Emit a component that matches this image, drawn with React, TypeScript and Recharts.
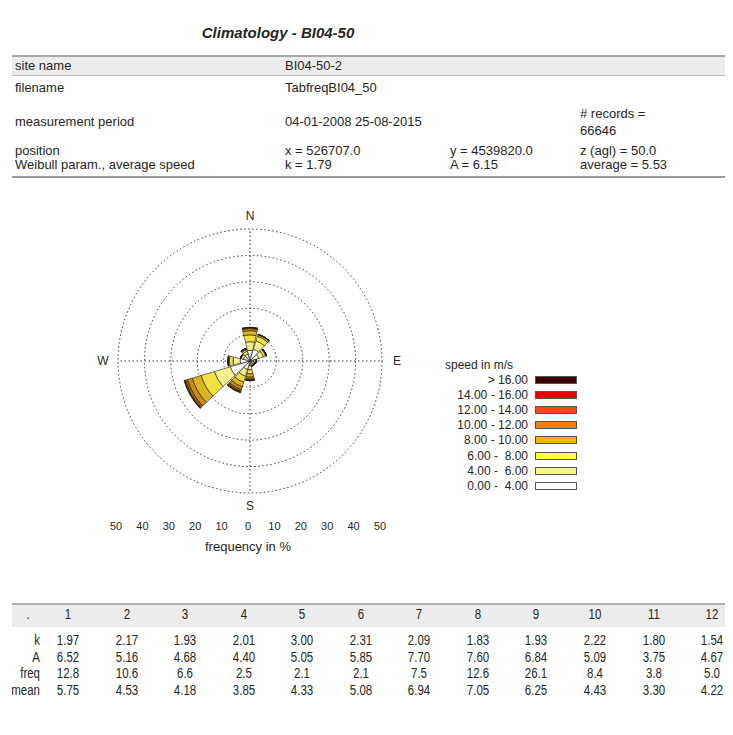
import React from 'react';
import { RadialBarChart, RadialBar, PolarGrid, PolarAngleAxis, PolarRadiusAxis } from 'recharts';

// 12 direction sectors, sector 1 = N, then clockwise every 30 degrees
const sectors = ['1', '2', '3', '4', '5', '6', '7', '8', '9', '10', '11', '12'];

// frequency (%) per speed class, per sector
const f0to4 = [4.06, 4.64, 3.45, 1.41, 0.82, 0.71, 1.68, 3.35, 7.8, 3.72, 2.56, 2.73];
const f4to6 = [3.26, 3.31, 1.84, 0.71, 0.88, 0.66, 1.67, 2.66, 6.29, 2.69, 0.87, 1.13];
const f6to8 = [2.61, 1.85, 0.92, 0.3, 0.35, 0.46, 1.6, 2.39, 5.26, 1.44, 0.29, 0.64];
const f8to10 = [1.61, 0.64, 0.31, 0.08, 0.04, 0.2, 1.21, 1.79, 3.49, 0.45, 0.06, 0.31];
const f10to12 = [0.79, 0.14, 0.07, 0.01, 0.0, 0.06, 0.74, 1.16, 1.9, 0.08, 0.01, 0.13];
const f12to14 = [0.32, 0.02, 0.01, 0, 0, 0.01, 0.37, 0.66, 0.87, 0.01, 0, 0.05];
const f14to16 = [0.1, 0, 0, 0, 0, 0, 0.15, 0.34, 0.33, 0, 0, 0.02];
const fOver16 = [0.04, 0, 0, 0, 0, 0, 0.08, 0.25, 0.15, 0, 0, 0.01];

const speedClasses = ['0.00 -  4.00', '4.00 -  6.00', '6.00 -  8.00', '8.00 - 10.00', '10.00 - 12.00', '12.00 - 14.00', '14.00 - 16.00', '> 16.00'];
const classValues = [f0to4, f4to6, f6to8, f8to10, f10to12, f12to14, f14to16, fOver16];
const barColors = ['#ffffff', '#f7f08c', '#f0e040', '#dcb420', '#c88a10', '#a8640a', '#844606', '#5a2a02'];
const legendColors = ['#ffffff', '#f5f58a', '#ffff3c', '#ffb400', '#ff7d00', '#ff4614', '#ee0000', '#3a0000'];

const freqTicks = [0, 10, 20, 30, 40, 50];
const compass = [
  { label: 'N', angle: 90, gap: 13 },
  { label: 'E', angle: 0, gap: 15 },
  { label: 'S', angle: 270, gap: 13 },
  { label: 'W', angle: 180, gap: 15 },
];

// header table
const siteName = 'BI04-50-2';
const fileName = 'TabfreqBI04_50';
const period = '04-01-2008 25-08-2015';
const records = '66646';
const posX = '526707.0';
const posY = '4539820.0';
const posZ = '50.0';
const weibullK = '1.79';
const weibullA = '6.15';
const avgSpeed = '5.53';

// sector table
const kValues = ['1.97', '2.17', '1.93', '2.01', '3.00', '2.31', '2.09', '1.83', '1.93', '2.22', '1.80', '1.54'];
const aValues = ['6.52', '5.16', '4.68', '4.40', '5.05', '5.85', '7.70', '7.60', '6.84', '5.09', '3.75', '4.67'];
const freqValues = ['12.8', '10.6', '6.6', '2.5', '2.1', '2.1', '7.5', '12.6', '26.1', '8.4', '3.8', '5.0'];
const meanValues = ['5.75', '4.53', '4.18', '3.85', '4.33', '5.08', '6.94', '7.05', '6.25', '4.43', '3.30', '4.22'];

const roseData = sectors.map((s, i) => {
  const row: Record<string, number | string> = { sector: s };
  classValues.forEach((vals, c) => {
    row['c' + c] = vals[i];
  });
  return row;
});

const FONT = '"Liberation Sans", Arial, sans-serif';
const TXT = '#262626';

// rose placement: center on the page at (LEFT + CX, TOP + CY)
const LEFT = 80;
const TOP = 191;
const CX = 170;
const CY = 170;
const R = 132;
const MAXF = 50;

const abs = (style: React.CSSProperties): React.CSSProperties => ({ position: 'absolute', whiteSpace: 'pre', ...style });

function HeaderTable() {
  const cell = (text: string, x: number, y: number) => (
    <div style={abs({ left: x, top: y - 8, fontSize: 13, lineHeight: '16px', color: TXT })}>{text}</div>
  );
  return (
    <>
      <div style={abs({ left: 12, top: 55, width: 713, height: 18, background: '#ececec', borderTop: '2px solid #a8a8a8', borderBottom: '1px solid #bdbdbd' })} />
      <div style={abs({ left: 12, top: 176, width: 713, height: 0, borderTop: '2px solid #9a9a9a' })} />
      {cell('site name', 15, 66)}
      {cell(siteName, 285, 66)}
      {cell('filename', 15, 88)}
      {cell(fileName, 285, 88)}
      {cell('measurement period', 15, 122)}
      {cell(period, 285, 122)}
      {cell('# records =', 580, 114)}
      {cell(records, 580, 131)}
      {cell('position', 15, 151)}
      {cell('x = ' + posX, 285, 151)}
      {cell('y = ' + posY, 450, 151)}
      {cell('z (agl) = ' + posZ, 580, 151)}
      {cell('Weibull param., average speed', 15, 165)}
      {cell('k = ' + weibullK, 285, 165)}
      {cell('A = ' + weibullA, 450, 165)}
      {cell('average = ' + avgSpeed, 580, 165)}
    </>
  );
}

function SectorTable() {
  const colX = (i: number) => 68 + i * 58.55;
  const rows = [
    { label: 'k', vals: kValues, y: 640 },
    { label: 'A', vals: aValues, y: 657 },
    { label: 'freq', vals: freqValues, y: 673 },
    { label: 'mean', vals: meanValues, y: 690 },
  ];
  const txt: React.CSSProperties = {
    fontSize: 14,
    lineHeight: '16px',
    color: TXT,
    transform: 'scaleX(0.82)',
  };
  return (
    <>
      <div style={abs({ left: 12, top: 603, width: 713, height: 22, background: '#ececec', borderTop: '2px solid #b0b0b0' })} />
      <div style={abs({ left: 13, top: 606, width: 30, textAlign: 'center', ...txt })}>.</div>
      {sectors.map((s, i) => (
        <div key={s} style={abs({ left: colX(i) - 25, top: 606, width: 50, textAlign: 'center', ...txt })}>{s}</div>
      ))}
      {rows.map((r) => (
        <React.Fragment key={r.label}>
          <div style={abs({ left: 0, top: r.y - 8, width: 40, textAlign: 'right', ...txt, transformOrigin: 'right center' })}>{r.label}</div>
          {r.vals.map((v, i) => (
            <div key={i} style={abs({ left: colX(i) - 25, top: r.y - 8, width: 50, textAlign: 'center', ...txt })}>{v}</div>
          ))}
        </React.Fragment>
      ))}
    </>
  );
}

function SpeedLegend() {
  const items = speedClasses.map((s, i) => ({ s, color: legendColors[i] })).reverse();
  return (
    <div style={abs({ left: 420, top: 358, width: 170, fontSize: 12, color: TXT })}>
      <div style={abs({ left: 25, top: 0, lineHeight: '14px' })}>speed in m/s</div>
      {items.map((it, i) => (
        <React.Fragment key={it.s}>
          <div style={abs({ left: 0, top: 15 + i * 15.1, width: 108, textAlign: 'right', lineHeight: '14px' })}>{it.s}</div>
          <div style={abs({ left: 115, top: 18 + i * 15.1, width: 40, height: 6, background: it.color, border: '1px solid #555' })} />
        </React.Fragment>
      ))}
    </div>
  );
}

export default function App() {
  const freqLabelX = (v: number, side: number) => LEFT + CX - 2 + side * (v / MAXF) * R;
  return (
    <div style={{ position: 'relative', width: 733, height: 735, background: '#fff', fontFamily: FONT, overflow: 'hidden' }}>
      <style>{'body{margin:0}'}</style>
      <div style={abs({ left: 0, top: 24, width: 556, textAlign: 'center', fontSize: 15, fontWeight: 'bold', fontStyle: 'italic', color: TXT })}>
        Climatology - BI04-50
      </div>
      <HeaderTable />

      <div style={abs({ left: LEFT, top: TOP })}>
        <RadialBarChart
          width={340}
          height={330}
          cx={CX}
          cy={CY}
          data={roseData}
          layout="centric"
          startAngle={75}
          endAngle={-285}
          innerRadius={0}
          outerRadius={R}
          barCategoryGap="5%"
          margin={{ top: 0, right: 0, bottom: 0, left: 0 }}
        >
          <PolarGrid gridType="circle" polarAngles={[0, 90, 180, 270]} stroke="#333" strokeDasharray="1.5 2.5" strokeWidth={1} />
          <PolarAngleAxis type="category" dataKey="sector" tick={false} axisLine={false} tickLine={false} />
          <PolarRadiusAxis type="number" domain={[0, MAXF]} ticks={freqTicks} tick={false} axisLine={false} tickLine={false} />
          {classValues.map((_, c) => (
            <RadialBar
              key={c}
              dataKey={'c' + c}
              stackId="rose"
              fill={barColors[c]}
              stroke="#1a1a1a"
              strokeWidth={0.6}
              isAnimationActive={false}
            />
          ))}
          <circle cx={CX} cy={CY} r={5} fill="#9a9a9a" stroke="#222" strokeWidth={1} />
          {compass.map((d) => {
            const rad = (d.angle * Math.PI) / 180;
            const rr = R + d.gap;
            return (
              <text
                key={d.label}
                x={CX + rr * Math.cos(rad)}
                y={CY - rr * Math.sin(rad)}
                textAnchor="middle"
                dominantBaseline="central"
                fontSize={12}
                fill={TXT}
                fontFamily={FONT}
              >
                {d.label}
              </text>
            );
          })}
        </RadialBarChart>
      </div>

      {freqTicks.map((v) =>
        (v === 0 ? [0] : [-1, 1]).map((side) => (
          <div key={v + '_' + side} style={abs({ left: freqLabelX(v, side) - 15, top: 520, width: 30, textAlign: 'center', fontSize: 11, color: TXT })}>
            {v}
          </div>
        ))
      )}
      <div style={abs({ left: LEFT + CX - 62, top: 539, width: 120, textAlign: 'center', fontSize: 13, color: TXT })}>frequency in %</div>

      <SpeedLegend />
      <SectorTable />
    </div>
  );
}
